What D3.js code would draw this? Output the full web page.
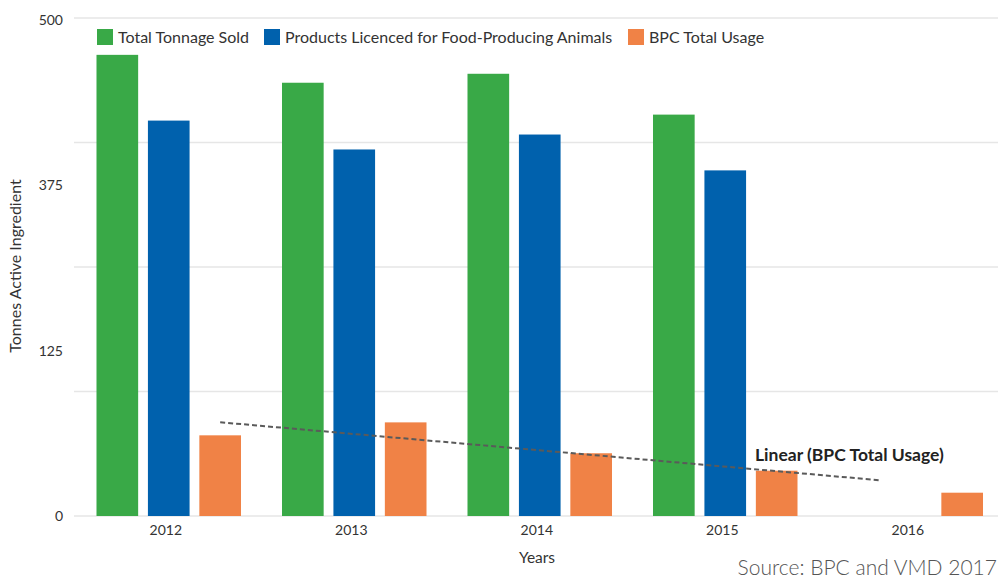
<!DOCTYPE html>
<html>
<head>
<meta charset="utf-8">
<script src="https://cdn.jsdelivr.net/npm/d3@7"></script>
<style>
  body { margin: 0; background: #fff; }
  svg text { font-family: Lato, "Open Sans", sans-serif; }
</style>
</head>
<body>
<div id="chart"></div>
<script>
// data
let years = ["2012", "2013", "2014", "2015", "2016"];
let seriesNames = ["Total Tonnage Sold", "Products Licenced for Food-Producing Animals", "BPC Total Usage"];
let totalTonnage = [463, 435, 444, 403, null];
let licencedFood = [397, 368, 383, 347, null];
let bpcUsage = [81, 94, 63, 45.5, 23.4];
let gridValues = [0, 125, 250, 375, 500];
let yTickLabels = ["500", "375", "125", "0"];
let trendEnd = 4.55; // trend line stops part way into 2016 (category index, 1-based)

let colors = ["#39a947", "#0061ad", "#f08246"];

let svgWidth = 998, svgHeight = 579;

let svg = d3.select("#chart").append("svg")
    .attr("width", svgWidth)
    .attr("height", svgHeight);

// scales
let y = d3.scaleLinear().domain([0, 500]).range([516, 18]);

let x0 = d3.scaleBand().domain(years)
    .range([76, 1003.5])
    .paddingInner(0.221)
    .paddingOuter(0.1105);

let x1 = d3.scaleBand().domain(seriesNames)
    .range([0, x0.bandwidth()])
    .paddingInner(0.19);

// gridlines
svg.append("g").selectAll("line")
    .data(gridValues).enter().append("line")
    .attr("x1", 74).attr("x2", svgWidth)
    .attr("y1", d => y(d)).attr("y2", d => y(d))
    .attr("stroke", "#e6e6e6")
    .attr("stroke-width", 1.5);

// y tick labels (spaced evenly down the axis as in the source)
let yLabelScale = d3.scalePoint().domain(yTickLabels).range([y(500) + 2, y(0)]);
svg.append("g")
    .attr("transform", "translate(63,0)")
    .call(d3.axisLeft(yLabelScale).tickSize(0).tickPadding(0))
    .call(g => g.select(".domain").remove())
    .selectAll("text")
    .attr("font-size", "14px")
    .attr("fill", "#333");

// bars
let rows = years.map((yr, i) => ({
    year: yr,
    values: [totalTonnage[i], licencedFood[i], bpcUsage[i]]
}));

let groups = svg.append("g").selectAll("g")
    .data(rows).enter().append("g")
    .attr("transform", d => `translate(${x0(d.year)},0)`);

groups.selectAll("rect")
    .data(d => d.values.map((v, j) => ({ name: seriesNames[j], value: v, color: colors[j] })).filter(d => d.value != null))
    .enter().append("rect")
    .attr("x", d => x1(d.name))
    .attr("width", x1.bandwidth())
    .attr("y", d => y(d.value))
    .attr("height", d => y(0) - y(d.value))
    .attr("fill", d => d.color);

// linear trend of BPC usage (least squares)
let n = bpcUsage.length;
let xs = d3.range(1, n + 1);
let mx = d3.mean(xs), my = d3.mean(bpcUsage);
let slope = d3.sum(xs, (xv, i) => (xv - mx) * (bpcUsage[i] - my)) / d3.sum(xs, xv => (xv - mx) * (xv - mx));
let intercept = my - slope * mx;

let orangeCenter = k => x0(years[0]) + x1(seriesNames[2]) + x1.bandwidth() / 2 + (k - 1) * x0.step();

svg.append("line")
    .attr("x1", orangeCenter(1))
    .attr("y1", y(intercept + slope * 1))
    .attr("x2", orangeCenter(trendEnd))
    .attr("y2", y(intercept + slope * trendEnd))
    .attr("stroke", "#5a5a5a")
    .attr("stroke-width", 2)
    .attr("stroke-dasharray", "5,3");

svg.append("text")
    .attr("x", 755)
    .attr("y", 461)
    .attr("font-size", "17.5px")
    .attr("font-weight", "bold")
    .attr("fill", "#222")
    .text("Linear (BPC Total Usage)");

// x axis labels
svg.append("g")
    .attr("transform", `translate(-3,${y(0) + 5})`)
    .call(d3.axisBottom(x0).tickSize(0).tickPadding(4))
    .call(g => g.select(".domain").remove())
    .selectAll("text")
    .attr("font-size", "14px")
    .attr("fill", "#333");

// axis titles
svg.append("text")
    .attr("transform", "rotate(-90)")
    .attr("x", -266)
    .attr("y", 21)
    .attr("text-anchor", "middle")
    .attr("font-size", "16px")
    .attr("fill", "#333")
    .text("Tonnes Active Ingredient");

svg.append("text")
    .attr("x", 537)
    .attr("y", 563)
    .attr("text-anchor", "middle")
    .attr("font-size", "15.5px")
    .attr("fill", "#333")
    .text("Years");

svg.append("text")
    .attr("x", 997)
    .attr("y", 575)
    .attr("text-anchor", "end")
    .attr("font-size", "21px")
    .attr("font-weight", 300)
    .attr("fill", "#555")
    .text("Source: BPC and VMD 2017");

// legend
let legendX = [97, 264, 628];
let legend = svg.append("g").selectAll("g")
    .data(seriesNames).enter().append("g")
    .attr("transform", (d, i) => `translate(${legendX[i]},29)`);

legend.append("rect")
    .attr("width", 16).attr("height", 16)
    .attr("fill", (d, i) => colors[i]);

legend.append("text")
    .attr("x", 21)
    .attr("y", 14)
    .attr("font-size", "16px")
    .attr("fill", "#333")
    .text(d => d);
</script>
</body>
</html>
